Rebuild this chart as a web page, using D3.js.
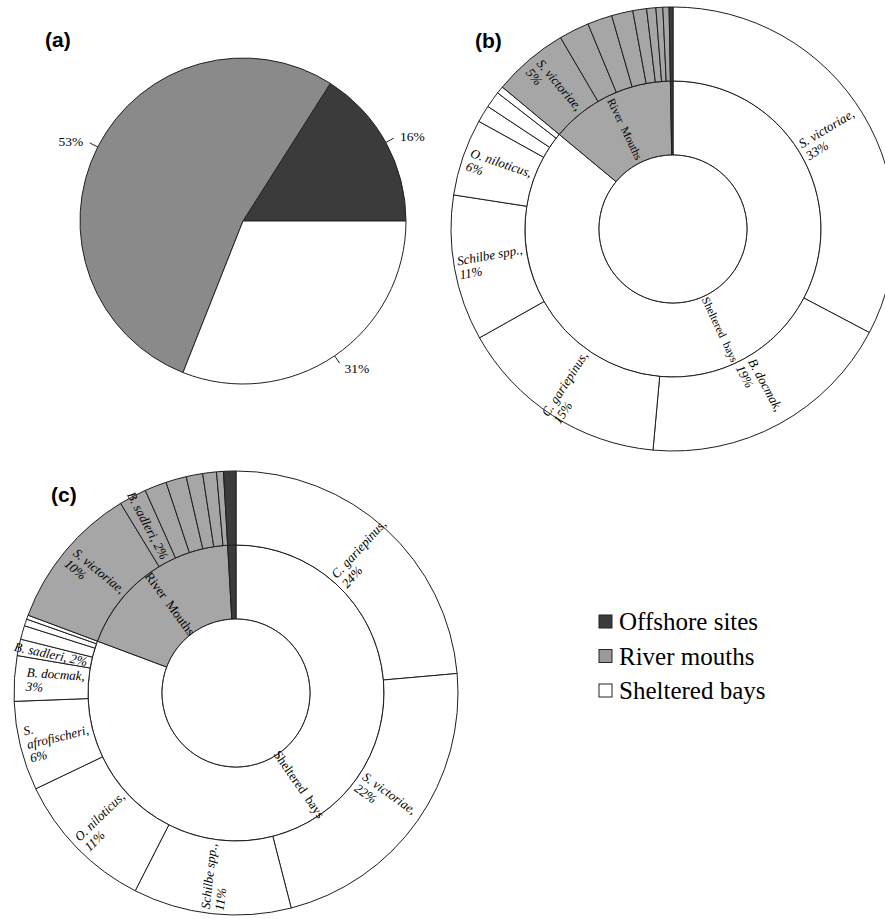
<!DOCTYPE html>
<html>
<head>
<meta charset="utf-8">
<script src="https://cdn.jsdelivr.net/npm/d3@7"></script>
<style>
body { margin: 0; background: #fff; }
svg { display: block; }
</style>
</head>
<body>
<div id="chart"></div>
<script>
var width = 885, height = 919;

// site groups (legend order)
var groups = ["Offshore sites", "River mouths", "Sheltered bays"];
var groupColor = ["#3b3b3b", "#a6a6a6", "#ffffff"];
var groupColorA = ["#3b3b3b", "#8a8a8a", "#ffffff"];

// (a) share of each site group
var aPct = [16, 53, 31];
var aLabels = ["16%", "53%", "31%"];

// (b) species shares, clockwise from 12 o'clock  (group: 2 sheltered, 1 river, 0 offshore)
var bPct = [32.7, 18.7, 15.4, 10.6, 5.6, 1.25, 1.2, 0.53,
            5.5, 2.2, 1.8, 1.55, 1.0, 0.67, 0.5, 0.45,
            0.28];
var bGroup = [2, 2, 2, 2, 2, 2, 2, 2, 1, 1, 1, 1, 1, 1, 1, 1, 0];
var bLabels = [["S. victoriae,", "33%"], ["B. docmak,", "19%"], ["C. gariepinus,", "15%"],
               ["Schilbe spp.,", "11%"], ["O. niloticus,", "6%"], [], [], [],
               ["S. victoriae,", "5%"], [], [], [], [], [], [], [], []];

// (c)
var cPct = [23.6, 22.4, 11.5, 10.4, 6.5, 3.3, 1.2, 1.0, 0.5, 0.3,
            10.6, 2.0, 1.6, 1.5, 1.2, 1.0, 0.5,
            0.9];
var cGroup = [2, 2, 2, 2, 2, 2, 2, 2, 2, 2, 1, 1, 1, 1, 1, 1, 1, 0];
var cLabels = [["C. gariepinus,", "24%"], ["S. victoriae,", "22%"], ["Schilbe spp.,", "11%"],
               ["O. niloticus,", "11%"], ["S.", "afrofischeri,", "6%"], ["B. docmak,", "3%"],
               ["B. sadleri, 2%"], [], [], [],
               ["S. victoriae,", "10%"], ["B. sadleri, 2%"], [], [], [], [], [],
               []];

var ringLabels = ["", "River Mouths", "Sheltered bays"];

var svg = d3.select("#chart").append("svg")
    .attr("width", width)
    .attr("height", height);

var serif = "'Liberation Serif', 'Times New Roman', serif";

// panel letters
[["(a)", 45, 47], ["(b)", 475, 48], ["(c)", 51, 502]].forEach(function(p) {
    svg.append("text").attr("x", p[1]).attr("y", p[2])
        .style("font-family", "'Liberation Sans', Arial, sans-serif")
        .style("font-weight", "bold").style("font-size", "21px")
        .text(p[0]);
});

// ---------- (a) pie ----------
var aCx = 243, aCy = 221, aR = 163;
var gA = svg.append("g").attr("transform", "translate(" + aCx + "," + aCy + ")");
var pieA = d3.pie().sort(null).startAngle(Math.PI / 2).endAngle(Math.PI / 2 - 2 * Math.PI);
var arcA = d3.arc().innerRadius(0).outerRadius(aR);
var aArcs = pieA(aPct);

gA.selectAll("path.slice").data(aArcs).join("path")
    .attr("class", "slice")
    .attr("d", arcA)
    .attr("fill", (d, i) => groupColorA[i])
    .attr("stroke", "#222").attr("stroke-width", 1);

aArcs.forEach(function(d, i) {
    var m = (d.startAngle + d.endAngle) / 2;
    var sx = Math.sin(m), sy = -Math.cos(m);
    gA.append("line")
        .attr("x1", sx * aR).attr("y1", sy * aR)
        .attr("x2", sx * (aR + 9)).attr("y2", sy * (aR + 9))
        .attr("stroke", "#222").attr("stroke-width", 1);
    gA.append("text")
        .attr("x", sx * (aR + 14) + (sx > 0 ? 2 : -2))
        .attr("y", sy * (aR + 14) + 1)
        .attr("dy", "0.35em")
        .attr("text-anchor", sx > 0 ? "start" : "end")
        .style("font-family", serif).style("font-size", "13.5px")
        .text(aLabels[i]);
});

// ---------- sunbursts ----------
function sunburst(cx, cy, pct, grp, labels, innerFont) {
    var r0 = 74, r1 = 148, r2 = 222;
    var g = svg.append("g").attr("transform", "translate(" + cx + "," + cy + ")");
    var pie = d3.pie().sort(null);

    // inner ring: totals per group, in the order they appear
    var order = [];
    grp.forEach(function(k) { if (order.indexOf(k) < 0) order.push(k); });
    var totals = order.map(k => d3.sum(pct.filter((v, i) => grp[i] === k)));
    var inner = pie(totals);
    var outer = pie(pct);

    var arcIn = d3.arc().innerRadius(r0).outerRadius(r1);
    var arcOut = d3.arc().innerRadius(r1).outerRadius(r2);

    g.selectAll("path.inner").data(inner).join("path")
        .attr("class", "inner")
        .attr("d", arcIn)
        .attr("fill", (d, i) => groupColor[order[i]])
        .attr("stroke", "#1e1e1e").attr("stroke-width", 1);

    g.selectAll("path.outer").data(outer).join("path")
        .attr("class", "outer")
        .attr("d", arcOut)
        .attr("fill", (d, i) => groupColor[grp[i]])
        .attr("stroke", "#1e1e1e").attr("stroke-width", 1);

    g.append("circle").attr("r", r0).attr("fill", "#fff")
        .attr("stroke", "#1e1e1e").attr("stroke-width", 1);

    function rotation(d) {
        var deg = (d.startAngle + d.endAngle) / 2 * 180 / Math.PI;
        return deg < 180 ? { a: deg - 90, right: true } : { a: deg - 270, right: false };
    }

    // ring labels
    inner.forEach(function(d, i) {
        var txt = ringLabels[order[i]];
        if (!txt) return;
        var rt = rotation(d);
        var rm = (r0 + r1) / 2;
        g.append("text")
            .attr("transform", "rotate(" + rt.a + ")")
            .attr("x", rt.right ? rm : -rm)
            .attr("y", 0).attr("dy", "0.35em")
            .attr("text-anchor", "middle")
            .style("font-family", serif).style("font-size", innerFont + "px")
            .style("word-spacing", "3px")
            .text(txt);
    });

    // species labels
    var lh = 14, pad = 4;
    outer.forEach(function(d, i) {
        var lines = labels[i];
        if (!lines.length) return;
        var rt = rotation(d);
        var t = g.append("g").attr("transform", "rotate(" + rt.a + ")");
        var texts = lines.map(function(s, j) {
            return t.append("text")
                .attr("y", (j - (lines.length - 1) / 2) * lh)
                .attr("dy", "0.35em")
                .style("font-family", serif).style("font-style", "italic")
                .style("font-size", "13px")
                .text(s);
        });
        var maxW = d3.max(texts, tx => tx.node().getComputedTextLength());
        var x0 = rt.right ? r1 + pad : -(r1 + pad) - maxW;
        texts.forEach(tx => tx.attr("x", x0));
    });
}

sunburst(673, 229, bPct, bGroup, bLabels, 11.5);
sunburst(236, 693, cPct, cGroup, cLabels, 13);

// ---------- legend ----------
var legend = svg.append("g").attr("transform", "translate(599,615)");
groups.forEach(function(name, i) {
    legend.append("rect")
        .attr("x", 0).attr("y", i * 34.5)
        .attr("width", 13).attr("height", 13)
        .attr("fill", groupColor[i] === "#a6a6a6" ? "#999" : groupColor[i])
        .attr("stroke", "#222").attr("stroke-width", 1);
    legend.append("text")
        .attr("x", 20).attr("y", i * 34.5 + 15)
        .style("font-family", serif).style("font-size", "25px")
        .text(name);
});
</script>
</body>
</html>
